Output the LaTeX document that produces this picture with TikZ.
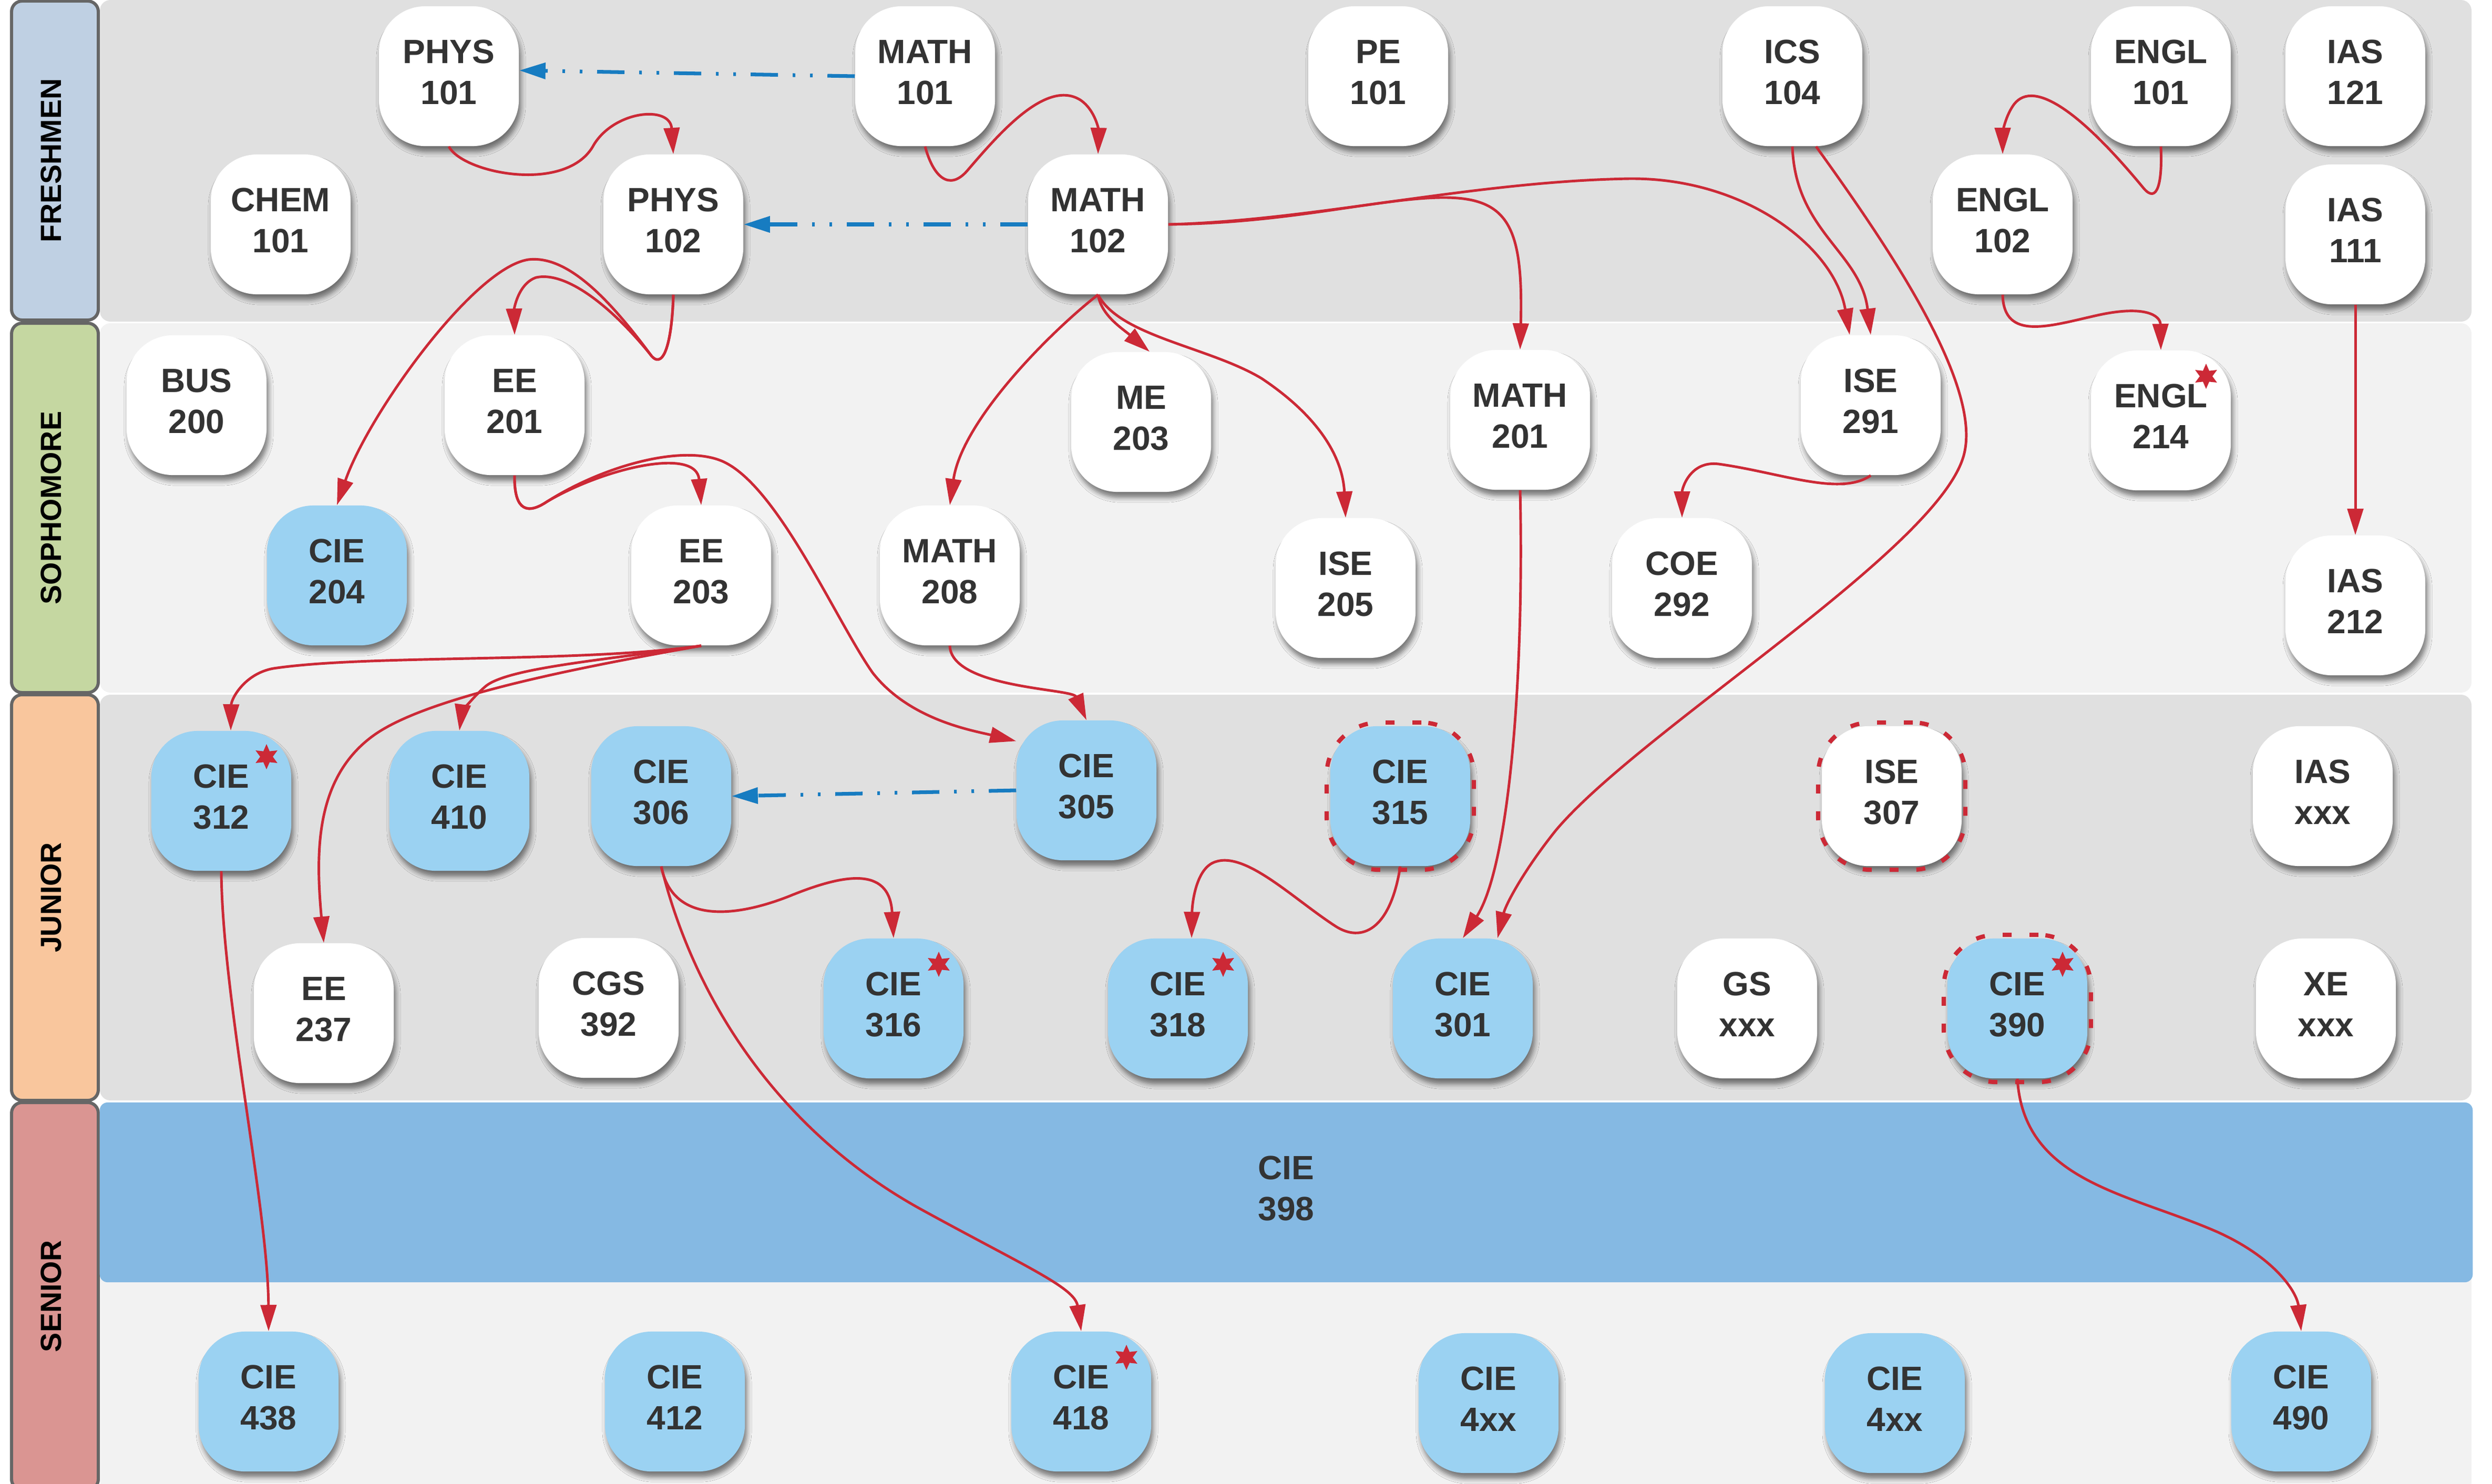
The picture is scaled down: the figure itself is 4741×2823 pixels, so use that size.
\documentclass[tikz,border=0pt]{standalone}
\usepackage{fontspec}
\setmainfont{Liberation Sans}
\usepackage{tikz}
\usetikzlibrary{arrows.meta,shapes.geometric,shadows.blur}
\definecolor{rowdark}{RGB}{224,224,224}
\definecolor{rowlight}{RGB}{242,242,242}
\definecolor{freshc}{RGB}{191,208,227}
\definecolor{sophc}{RGB}{197,215,161}
\definecolor{juniorc}{RGB}{249,198,157}
\definecolor{seniorc}{RGB}{218,149,146}
\definecolor{gray3}{RGB}{102,102,102}
\definecolor{ciefill}{RGB}{155,210,242}
\definecolor{bandc}{RGB}{133,185,227}
\definecolor{red2}{RGB}{204,41,54}
\definecolor{blue2}{RGB}{23,124,193}
\definecolor{text2}{RGB}{51,51,51}
\tikzset{
  course/.style={rectangle, rounded corners=0.88cm, minimum width=2.66cm, minimum height=2.66cm, inner sep=0pt,
    fill=white, text=text2, align=center, font=\fontsize{18.2}{22.2}\selectfont\bfseries, text depth=0.15cm,
    blur shadow={shadow xshift=0.04cm, shadow yshift=-0.11cm, shadow blur radius=0.09cm, shadow opacity=50}},
  cie/.style={course, fill=ciefill},
  band/.style={rectangle, rounded corners=0.15cm, fill=bandc, text=text2, align=center, font=\fontsize{18.2}{22.2}\selectfont\bfseries, text depth=0.15cm},
  elective/.style={rectangle, rounded corners=1cm, minimum width=2.8cm, minimum height=2.8cm, draw=red2, line width=2.3pt, dash pattern=on 0.17cm off 0.34cm},
  star6/.style={star, star points=6, star point ratio=2, fill=red2, minimum size=0.48cm, inner sep=0pt},
  prereq/.style={draw=red2, line width=1.4pt, -{Triangle[length=0.5cm, width=0.3cm]}},
  coreq/.style={draw=blue2, line width=2pt, dash pattern=on 0.52cm off 0.28cm on 0.05cm off 0.28cm on 0.05cm off 0.28cm, -{Triangle[length=0.5cm, width=0.3cm]}},
  yearbox/.style={draw=gray3, line width=1.7pt, rounded corners=0.2cm},
  yeartext/.style={rotate=90, font=\fontsize{15.8}{18}\selectfont\bfseries}
}

\begin{document}
\begin{tikzpicture}[x=0.01cm, y=-0.01cm]
	\newcommand \rowleft{190}
	\newcommand \rowright{4702}
	\useasboundingbox (0,0) rectangle (4741,2823);
%% rows and year labels
\foreach \ya/\yb/\col in {0/612/rowdark, 615/1318/rowlight, 1322/2094/rowdark, 2098/2840/rowlight}
{
\fill[\col, rounded corners=0.2cm] (\rowleft,\ya) rectangle (\rowright,\yb);
}
\foreach \nm/\ya/\yb/\col/\txt in {fresh/2/609/freshc/FRESHMEN, soph/615/1318/sophc/SOPHOMORE, junior/1322/2094/juniorc/JUNIOR, senior/2098/2835/seniorc/SENIOR}
{
\filldraw[yearbox, fill=\col] (22,\ya) rectangle (187,\yb);
\node[yeartext] (y\nm) at (97,{(\ya+\yb)/2}) {\txt};
}
	\node[band, minimum width=45.12cm, minimum height=3.42cm] (cie398) at (2447,2269) {CIE\\398};

%% courses
\foreach \nm/\x/\y/\a/\b in {phys101/854/145/PHYS/101, math101/1760/145/MATH/101, pe101/2622/145/PE/101,
  ics104/3410/145/ICS/104, engl101/4111/145/ENGL/101, ias121/4481/145/IAS/121, chem101/534/427/CHEM/101,
  phys102/1281/427/PHYS/102, math102/2089/427/MATH/102, engl102/3810/427/ENGL/102, ias111/4481/446/IAS/111,
  bus200/374/771/BUS/200, ee201/979/771/EE/201, me203/2171/803/ME/203, math201/2892/799/MATH/201,
  ise291/3559/771/ISE/291, engl214/4111/800/ENGL/214, ee203/1334/1095/EE/203, math208/1807/1095/MATH/208,
  ise205/2560/1119/ISE/205, coe292/3200/1119/COE/292, ias212/4481/1152/IAS/212, ise307/3599/1515/ISE/307,
  iasx/4419/1515/IAS/xxx, ee237/616/1928/EE/237, cgs392/1158/1918/CGS/392, gsx/3324/1919/GS/xxx, xex/4425/1919/XE/xxx}
{
\node[course] (\nm) at (\x,\y) {\a\\\b};
}
\foreach \nm/\x/\y/\b in {cie204/641/1095/204, cie312/421/1524/312, cie410/874/1524/410, cie306/1258/1515/306,
  cie305/2067/1504/305, cie315/2664/1515/315, cie316/1700/1919/316, cie318/2241/1919/318, cie301/2783/1919/301,
  cie390/3838/1919/390, cie438/511/2667/438, cie412/1284/2667/412, cie418/2057/2667/418, cie4a/2832/2670/4xx,
  cie4b/3605/2670/4xx, cie490/4378/2667/490}
{
\node[cie] (\nm) at (\x,\y) {CIE\\\b};
}
\foreach \c in {cie315, ise307, cie390}
{
\node[elective] (\c r) at (\c) {};
}
\foreach \c in {cie312, engl214, cie316, cie318, cie390, cie418}
{
\node[star6] (\c s) at ([shift={(86,-84)}]\c.center) {};
}

%% co-requisites
	\draw[coreq] (math101.west) -- ([yshift=0.11cm]phys101.east);
	\draw[coreq] (math102.west) -- (phys102.east);
	\draw[coreq] (cie305.west) -- (cie306.east);

%% prerequisites
	\draw[prereq] (phys101.south) .. controls (880,330) and (1080,370) .. (1130,275) .. controls (1170,210) and (1275,200) .. (phys102.north);
	\draw[prereq] (math101.south) .. controls (1775,335) and (1805,365) .. (1840,325) .. controls (1900,255) and (1990,150) .. (2055,190) .. controls (2085,210) and (2090,250) .. (math102.north);
	\draw[prereq] (phys102.south) .. controls (1279,640) and (1265,705) .. (1240,678) .. controls (1160,570) and (1080,485) .. (1005,494) .. controls (900,510) and (700,790) .. (cie204.north);
	\draw[prereq] (phys102.south) .. controls (1279,640) and (1265,705) .. (1240,678) .. controls (1170,590) and (1080,515) .. (1020,528) .. controls (985,540) and (978,590) .. (ee201.north);
	\draw[prereq] (ee201.south) .. controls (978,960) and (995,985) .. (1040,955) .. controls (1150,890) and (1325,850) .. (ee203.north);
	\draw[prereq] (ee201.south) .. controls (978,960) and (995,985) .. (1040,955) .. controls (1150,885) and (1300,845) .. (1375,878) .. controls (1480,925) and (1590,1180) .. (1660,1280) .. controls (1730,1370) and (1850,1390) .. (cie305.145);
	\draw[prereq] (ee203.south) .. controls (1100,1262) and (700,1245) .. (520,1272) .. controls (465,1282) and (440,1330) .. ([xshift=0.18cm]cie312.north);
	\draw[prereq] (ee203.south) .. controls (1160,1255) and (970,1270) .. (925,1305) .. controls (895,1330) and (878,1360) .. (cie410.north);
	\draw[prereq] (ee203.south) .. controls (1150,1262) and (820,1320) .. (710,1400) .. controls (600,1480) and (600,1620) .. (ee237.north);
	\draw[prereq] (math102.south) .. controls (2000,630) and (1830,800) .. (math208.north);
	\draw[prereq] (math102.south) .. controls (2095,600) and (2135,625) .. ([xshift=0.16cm]me203.north);
	\draw[prereq] (math102.south) .. controls (2130,640) and (2300,660) .. (2400,720) .. controls (2520,800) and (2555,880) .. (ise205.north);
	\draw[prereq] (math102.east) .. controls (2450,425) and (2620,378) .. (2740,376) .. controls (2870,374) and (2898,430) .. (math201.north);
	\draw[prereq] (math102.east) .. controls (2500,420) and (2800,345) .. (3100,340) .. controls (3320,338) and (3490,470) .. ([xshift=-0.4cm]ise291.north);
	\draw[prereq] (ics104.south) .. controls (3415,440) and (3540,480) .. (ise291.north);
	\draw[prereq] ([xshift=0.45cm]ics104.south) .. controls (3600,480) and (3775,740) .. (3735,870) .. controls (3680,1050) and (3120,1390) .. (2960,1580) .. controls (2900,1655) and (2865,1720) .. ([xshift=0.66cm]cie301.north);
	\draw[prereq] (math201.south) .. controls (2900,1300) and (2870,1650) .. (cie301.north);
	\draw[prereq] (cie315.south) .. controls (2645,1770) and (2590,1795) .. (2540,1762) .. controls (2460,1710) and (2370,1620) .. (2312,1640) .. controls (2275,1652) and (2268,1720) .. ([xshift=0.26cm]cie318.north);
	\draw[prereq] (cie306.south) .. controls (1280,1760) and (1400,1745) .. (1500,1706) .. controls (1600,1665) and (1692,1645) .. (cie316.north);
	\draw[prereq] (cie306.south) .. controls (1320,1900) and (1480,2150) .. (1750,2300) .. controls (1950,2410) and (2045,2450) .. (cie418.north);
	\draw[prereq] (cie312.south) .. controls (423,1900) and (510,2300) .. (cie438.north);
	\draw[prereq] (math208.south) .. controls (1810,1310) and (2040,1310) .. (cie305.north);
	\draw[prereq] (ise291.south) .. controls (3500,945) and (3390,900) .. (3270,883) .. controls (3215,876) and (3200,930) .. (coe292.north);
	\draw[prereq] (engl101.south) .. controls (4114,345) and (4105,390) .. (4078,358) .. controls (3960,215) and (3870,150) .. (3832,198) .. controls (3812,225) and (3810,260) .. (engl102.north);
	\draw[prereq] (engl102.south) .. controls (3812,650) and (3900,620) .. (3990,600) .. controls (4080,580) and (4110,600) .. (engl214.north);
	\draw[prereq] (ias111.south) -- (ias212.north);
	\draw[prereq] (cie390.south) .. controls (3850,2250) and (4050,2270) .. (4220,2345) .. controls (4330,2395) and (4370,2460) .. (cie490.north);
\end{tikzpicture}
\end{document}
